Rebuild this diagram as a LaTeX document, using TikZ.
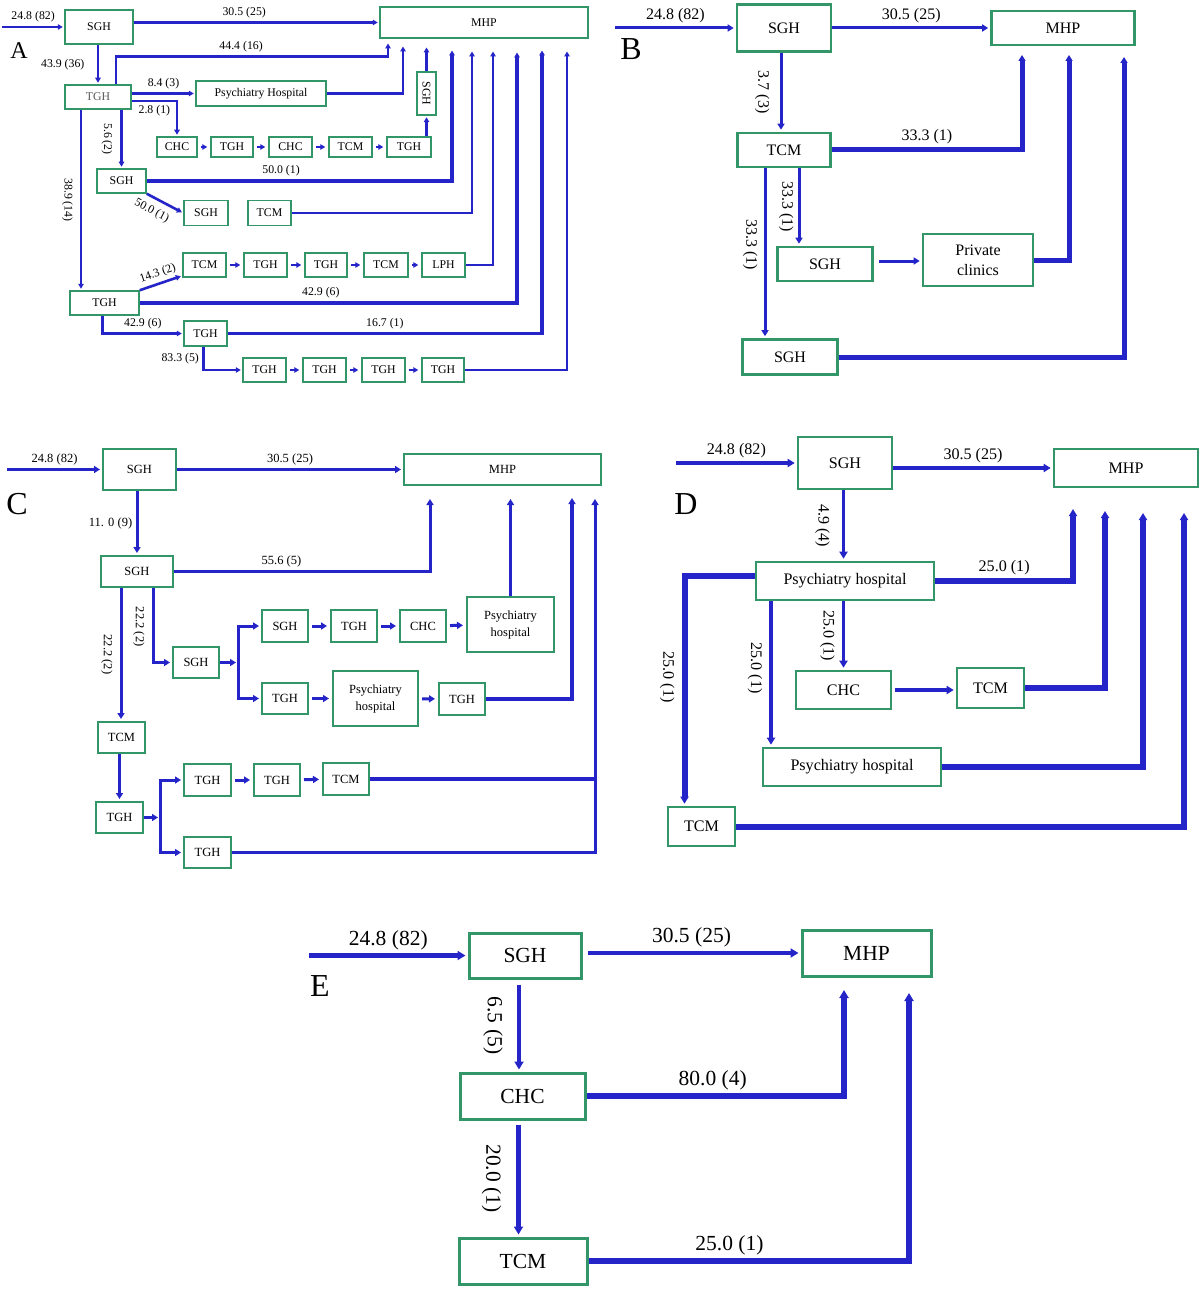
\documentclass[tikz,border=0pt]{standalone}
\usepackage{fontspec}
\usepackage{graphicx}
\setmainfont{Liberation Serif}
\usetikzlibrary{arrows.meta}

\definecolor{flowblue}{RGB}{36,36,200}
\definecolor{boxgreen}{RGB}{50,150,105}

\begin{document}
\begin{tikzpicture}[x=1pt,y=-1pt,
  box/.style 2 args={draw=boxgreen,fill=white,boxline,inner sep=0pt,align=center,
    minimum width=#1pt,minimum height=#2pt},
  boxline/.style={line width=2pt},
  tag/.style={inner sep=0pt,font=\fontsize{32}{32}\selectfont},
  vlab/.style={rotate=-90,anchor=north,inner sep=#1},
  vlab/.default=6pt,
  fa/.style={flowblue,text=black,line width=3pt,-{Triangle[length=6pt,width=7pt]},shorten >=2pt},
  fb/.style={fa,line width=5pt},
  link/.style={fa,shorten <=3pt,shorten >=3pt}]
\useasboundingbox (0,0) rectangle (1200,1289);

% A
\begin{scope}[font=\fontsize{11.8}{13}\selectfont,
  boxline/.style={line width=1.5pt},
  fa/.style={flowblue,text=black,line width=2.6pt,-{Triangle[length=5pt,width=5.5pt]},shorten >=1.5pt},
  fb/.style={fa,line width=3.3pt}]
\node[tag,font=\fontsize{24}{24}\selectfont] (a-tag) at (19,51) {A};
\node[box={68}{34}] (a-sgh) at (99,27) {SGH};
\node[box={208}{31}] (a-mhp) at (484,22.5) {MHP};
\node[box={66}{24}] (a-tgh) at (98,97) {\textcolor{black!65}{TGH}};
\node[box={130}{25}] (a-ph) at (261,93.5) {Psychiatry Hospital};
\node[box={40}{20}] (a-chc1) at (177,147) {CHC};
\node[box={42}{20}] (a-tgh2) at (232,147) {TGH};
\node[box={43}{20}] (a-chc2) at (290.5,147) {CHC};
\node[box={43}{20}] (a-tcm1) at (350.5,147) {TCM};
\node[box={44}{20}] (a-tgh3) at (409,147) {TGH};
\node[box={19}{43}] (a-sghv) at (426.5,93.5) {\rotatebox{-90}{SGH}};
\node[box={49}{24}] (a-sgh2) at (121.5,181) {SGH};
\node[box={44}{25}] (a-sgh3) at (206,213) {SGH};
\node[box={43}{25}] (a-tcm2) at (269.5,213) {TCM};
\node[box={69}{24}] (a-tgh4) at (104.5,303) {TGH};
\node[box={43}{24}] (a-tcm3) at (204.5,265) {TCM};
\node[box={43}{24}] (a-tgh5) at (265.5,265) {TGH};
\node[box={42}{24}] (a-tgh6) at (326,265) {TGH};
\node[box={44}{24}] (a-tcm4) at (386,265) {TCM};
\node[box={43}{24}] (a-lph) at (443.5,265) {LPH};
\node[box={43}{25}] (a-tgh7) at (205.5,333.5) {TGH};
\node[box={43}{24}] (a-tgh8) at (264.5,370) {TGH};
\node[box={43}{24}] (a-tgh9) at (324.5,370) {TGH};
\node[box={43}{24}] (a-tgh10) at (383.5,370) {TGH};
\node[box={42}{24}] (a-tgh11) at (443,370) {TGH};
\coordinate (a-start) at (2,27);
\coordinate (a-in1) at (388,42);
\coordinate (a-in2) at (403,45);
\coordinate (a-in3) at (426.5,46);
\coordinate (a-in4) at (452,49);
\coordinate (a-in5) at (472,50);
\coordinate (a-in6) at (493,50);
\coordinate (a-in7) at (517,51);
\coordinate (a-in8) at (542,49);
\coordinate (a-in9) at (567,50);
\coordinate (a-d1) at ([xshift=18pt]a-tgh.north);
\coordinate (a-d2) at ([xshift=-17pt]a-tgh.south);
\coordinate (a-d3) at ([xshift=-2pt]a-tgh4.south);
\coordinate (a-d4) at ([xshift=-2pt]a-tgh7.south);
\coordinate (a-o1) at ([yshift=-4pt]a-tgh.east);
\path[fa]
  (a-start) edge node[above]{24.8 (82)} (a-sgh.west)
  (a-sgh.east |- a-mhp) edge node[above,pos=.45]{30.5 (25)} (a-mhp.west)
  (a-sgh.south -| a-tgh) edge node[left=9pt]{43.9 (36)} (a-tgh.north)
  (a-tgh.east |- a-ph) edge node[above]{8.4 (3)} (a-ph.west)
  (a-tgh.south -| a-sgh2) edge node[vlab=8pt]{5.6 (2)} (a-sgh2.north)
  (a-sgh2.south east) edge node[below=3pt,sloped,pos=.3]{50.0 (1)} (a-sgh3.west)
  (a-tgh4.north east) edge node[above,sloped]{14.3 (2)} ([yshift=2pt]a-tcm3.south west)
  (a-d2) edge node[vlab=7pt]{38.9 (14)} (a-d2 |- a-tgh4.north)
  (a-tgh3.north -| a-sghv) edge (a-sghv.south)
  (a-sghv.north) edge (a-in3);
\draw[fa] (a-d1) -- ++(0,-28) -| node[above,pos=.23]{44.4 (16)} (a-in1);
\draw[fa] (a-ph.east) -| (a-in2);
\draw[fa] (a-o1) -| node[below,pos=.25]{2.8 (1)} (a-chc1.north);
\draw[fb] (a-sgh2.east) -| node[above,pos=.22]{50.0 (1)} (a-in4);
\draw[fa] (a-tcm2.east) -| (a-in5);
\draw[fa] (a-lph.east) -| (a-in6);
\draw[fb] (a-tgh4.east) -| node[above,pos=.24]{42.9 (6)} (a-in7);
\draw[fa] (a-d3) |- node[above,pos=.75]{42.9 (6)} (a-tgh7.west);
\draw[fb] (a-tgh7.east) -| node[above,pos=.25]{16.7 (1)} (a-in8);
\draw[fa] (a-d4) |- node[left,pos=.25]{83.3 (5)} (a-tgh8.west);
\draw[fa] (a-tgh11.east) -| (a-in9);
\path[link] (a-chc1) edge (a-tgh2) (a-tgh2) edge (a-chc2) (a-chc2) edge (a-tcm1) (a-tcm1) edge (a-tgh3)
  (a-tcm3) edge (a-tgh5) (a-tgh5) edge (a-tgh6) (a-tgh6) edge (a-tcm4) (a-tcm4) edge (a-lph)
  (a-tgh8) edge (a-tgh9) (a-tgh9) edge (a-tgh10) (a-tgh10) edge (a-tgh11);
\end{scope}

% B
\begin{scope}[font=\fontsize{16}{20}\selectfont,
  boxline/.style={line width=2.6pt},
  fa/.style={flowblue,text=black,line width=3pt,-{Triangle[length=6pt,width=7pt]},shorten >=2pt},
  fb/.style={fa,line width=5pt}]
\node[tag] (b-tag) at (631,49) {B};
\node[box={94}{47}] (b-sgh) at (784,28) {SGH};
\node[box={143}{34}] (b-mhp) at (1063,28) {MHP};
\node[box={93}{34}] (b-tcm) at (784,150) {TCM};
\node[box={95}{34}] (b-sgh2) at (825,264) {SGH};
\node[box={110}{52}] (b-pc) at (978,260) {Private\\clinics};
\node[box={95}{35}] (b-sgh3) at (790,357) {SGH};
\coordinate (b-start) at (615,28);
\coordinate (b-in1) at (1022,53);
\coordinate (b-in2) at (1069,53);
\coordinate (b-in3) at (1124,55);
\coordinate (b-d0) at ([xshift=-3pt]b-sgh.south);
\coordinate (b-d1) at ([xshift=15pt]b-tcm.south);
\coordinate (b-d2) at ([xshift=-19pt]b-tcm.south);
\coordinate (b-o1) at ([yshift=3pt]b-sgh2.east);
\path[fa]
  (b-start) edge node[above]{24.8 (82)} (b-sgh.west)
  (b-sgh.east) edge node[above]{30.5 (25)} (b-mhp.west)
  (b-d0) edge node[vlab=10pt]{3.7 (3)} (b-d0 |- b-tcm.north)
  (b-d1) edge node[vlab=4pt]{33.3 (1)} (b-d1 |- b-sgh2.north)
  (b-d2) edge node[vlab=6pt,pos=.45]{33.3 (1)} (b-d2 |- b-sgh3.north)
  (b-o1) edge[shorten <=5pt] (b-o1 -| b-pc.west);
\draw[fb] (b-tcm.east) -| node[above,pos=.25]{33.3 (1)} (b-in1);
\draw[fb] (b-pc.east) -| (b-in2);
\draw[fb] (b-sgh3.east) -| (b-in3);
\end{scope}

% C
\begin{scope}[font=\fontsize{12.5}{17}\selectfont,
  boxline/.style={line width=2pt},
  fa/.style={flowblue,text=black,line width=3pt,-{Triangle[length=6pt,width=7pt]},shorten >=2pt},
  fb/.style={fa,line width=4.5pt}]
\node[tag] (c-tag) at (17,504) {C};
\node[box={73}{41}] (c-sgh) at (139.5,469.5) {SGH};
\node[box={197}{31}] (c-mhp) at (502.5,469.5) {MHP};
\node[box={72}{31}] (c-sgh2) at (137,571.5) {SGH};
\node[box={46}{31}] (c-sgh3) at (196,662.5) {SGH};
\node[box={46}{32}] (c-sgh4) at (285,626) {SGH};
\node[box={46}{32}] (c-tgh) at (354,626) {TGH};
\node[box={46}{32}] (c-chc) at (423,626) {CHC};
\node[box={87}{55}] (c-ph) at (510.5,624.5) {Psychiatry\\hospital};
\node[box={46}{31}] (c-tgh2) at (285,698.5) {TGH};
\node[box={85}{55}] (c-ph2) at (375.5,698.5) {Psychiatry\\hospital};
\node[box={46}{32}] (c-tgh3) at (462,699) {TGH};
\node[box={47}{31}] (c-tcm) at (121.5,737.5) {TCM};
\node[box={47}{31}] (c-tgh4) at (119.5,817.5) {TGH};
\node[box={47}{32}] (c-tgh5) at (207.5,780) {TGH};
\node[box={46}{32}] (c-tgh6) at (277,780) {TGH};
\node[box={46}{32}] (c-tcm2) at (346,779) {TCM};
\node[box={47}{31}] (c-tgh7) at (207.5,852.5) {TGH};
\coordinate (c-start) at (7,469.5);
\coordinate (c-in1) at (430,497);
\coordinate (c-in2) at (510.5,497);
\coordinate (c-in3) at (572,496);
\coordinate (c-in4) at (595,497);
\coordinate (c-br1) at (238,662.5);
\coordinate (c-br2) at (160,817.5);
\coordinate (c-d1) at ([xshift=-16pt]c-sgh2.south);
\coordinate (c-d2) at ([xshift=16pt]c-sgh2.south);
\path[fa]
  (c-start) edge node[above]{24.8 (82)} (c-sgh.west)
  (c-sgh.east |- c-mhp) edge node[above]{30.5 (25)} (c-mhp.west)
  (c-sgh.south -| c-sgh2) edge node[left]{11. 0 (9)} (c-sgh2.north)
  (c-d1) edge node[vlab=7pt]{22.2 (2)} (c-d1 |- c-tcm.north)
  (c-tcm.south -| c-tgh4) edge (c-tgh4.north)
  (c-sgh3.east) edge (c-br1)
  (c-tgh4.east) edge (c-br2)
  (c-ph.north) edge (c-in2);
\draw[fa] (c-sgh2.east) -| node[above,pos=.21]{55.6 (5)} (c-in1);
\draw[fa] (c-d2) |- node[vlab=7pt,pos=.26]{22.2 (2)} (c-sgh3.west);
\draw[fa] (c-br1) |- (c-sgh4.west);
\draw[fa] (c-br1) |- (c-tgh2.west);
\draw[fa] (c-br2) |- (c-tgh5.west);
\draw[fa] (c-br2) |- (c-tgh7.west);
\draw[fb] (c-tgh3.east) -| (c-in3);
\draw[fa] (c-tgh7.east) -| (c-in4);
\draw[fb,-,shorten >=0pt] (c-tcm2.east) -- (c-tcm2.east -| c-in4);
\path[link] (c-sgh4) edge (c-tgh) (c-tgh) edge (c-chc) (c-chc) edge (c-ph)
  (c-tgh2) edge (c-ph2) (c-ph2) edge (c-tgh3)
  (c-tgh5) edge (c-tgh6) (c-tgh6) edge (c-tcm2);
\end{scope}

% D
\begin{scope}[font=\fontsize{16.1}{19}\selectfont,
  boxline/.style={line width=2.6pt},
  fa/.style={flowblue,text=black,line width=3.5pt,-{Triangle[length=7pt,width=8pt]},shorten >=2pt},
  fb/.style={fa,line width=6pt}]
\node[tag] (d-tag) at (686,504) {D};
\node[box={94}{52}] (d-sgh) at (845,463) {SGH};
\node[box={144}{38}] (d-mhp) at (1126,468) {MHP};
\node[box={178}{38}] (d-ph) at (845,581) {Psychiatry hospital};
\node[box={95}{38}] (d-chc) at (843.5,690) {CHC};
\node[box={67}{40}] (d-tcm) at (990.5,688) {TCM};
\node[box={178}{38}] (d-ph2) at (852,767) {Psychiatry hospital};
\node[box={67}{39}] (d-tcm2) at (701.5,826.5) {TCM};
\coordinate (d-start) at (676,463);
\coordinate (d-in1) at (1073,507);
\coordinate (d-in2) at (1105,509);
\coordinate (d-in3) at (1143,511);
\coordinate (d-in4) at (1184,511);
\coordinate (d-d1) at ([xshift=-17pt]d-tcm2.north);
\coordinate (d-d2) at ([xshift=-74pt]d-ph.south);
\coordinate (d-o1) at ([yshift=5pt]d-ph.west);
\path[fa]
  (d-start) edge node[above]{24.8 (82)} (d-sgh.west)
  (d-sgh.east |- d-mhp) edge node[above]{30.5 (25)} (d-mhp.west)
  (d-sgh.south -| d-chc) edge node[vlab=12pt]{4.9 (4)} (d-ph.north -| d-chc)
  (d-ph.south -| d-chc) edge node[vlab=7pt]{25.0 (1)} (d-chc.north)
  (d-d2) edge node[vlab=7pt,pos=.46]{25.0 (1)} (d-d2 |- d-ph2.north)
  (d-chc.east) edge[shorten <=3pt] (d-chc.east -| d-tcm.west);
\draw[fb] (d-ph.east) -| node[above,pos=.25]{25.0 (1)} (d-in1);
\draw[fb] (d-o1) -| node[vlab=7pt,pos=.72]{25.0 (1)} (d-d1);
\draw[fb] (d-tcm.east) -| (d-in2);
\draw[fb] (d-ph2.east) -| (d-in3);
\draw[fb] (d-tcm2.east) -| (d-in4);
\end{scope}

% E
\begin{scope}[font=\fontsize{21.5}{24}\selectfont,
  boxline/.style={line width=3pt},
  fa/.style={flowblue,text=black,line width=4.5pt,-{Triangle[length=8pt,width=9pt]},shorten >=2pt},
  fb/.style={fa,line width=6pt}]
\node[tag] (e-tag) at (320,986) {E};
\node[box={112}{45}] (e-sgh) at (525,955.5) {SGH};
\node[box={129}{46}] (e-mhp) at (866.5,953) {MHP};
\node[box={125}{46}] (e-chc) at (522.5,1096) {CHC};
\node[box={128}{46}] (e-tcm) at (523,1261) {TCM};
\coordinate (e-start) at (309,955.5);
\coordinate (e-in1) at (844,988);
\coordinate (e-in2) at (909,991);
\coordinate (e-d1) at ([xshift=-6pt]e-sgh.south);
\coordinate (e-d2) at ([xshift=-4pt]e-chc.south);
\path[fa]
  (e-start) edge node[above]{24.8 (82)} (e-sgh.west)
  (e-sgh.east |- e-mhp) edge[shorten <=5pt] node[above]{30.5 (25)} (e-mhp.west)
  (e-d1) edge[shorten <=5pt] node[vlab=14pt]{6.5 (5)} (e-d1 |- e-chc.north)
  (e-d2) edge[shorten <=4pt] node[vlab=15pt]{20.0 (1)} (e-d2 |- e-tcm.north);
\draw[fb] (e-chc.east) -| node[above,pos=.245]{80.0 (4)} (e-in1);
\draw[fb] (e-tcm.east) -| node[above,pos=.22]{25.0 (1)} (e-in2);
\end{scope}
\end{tikzpicture}
\end{document}
